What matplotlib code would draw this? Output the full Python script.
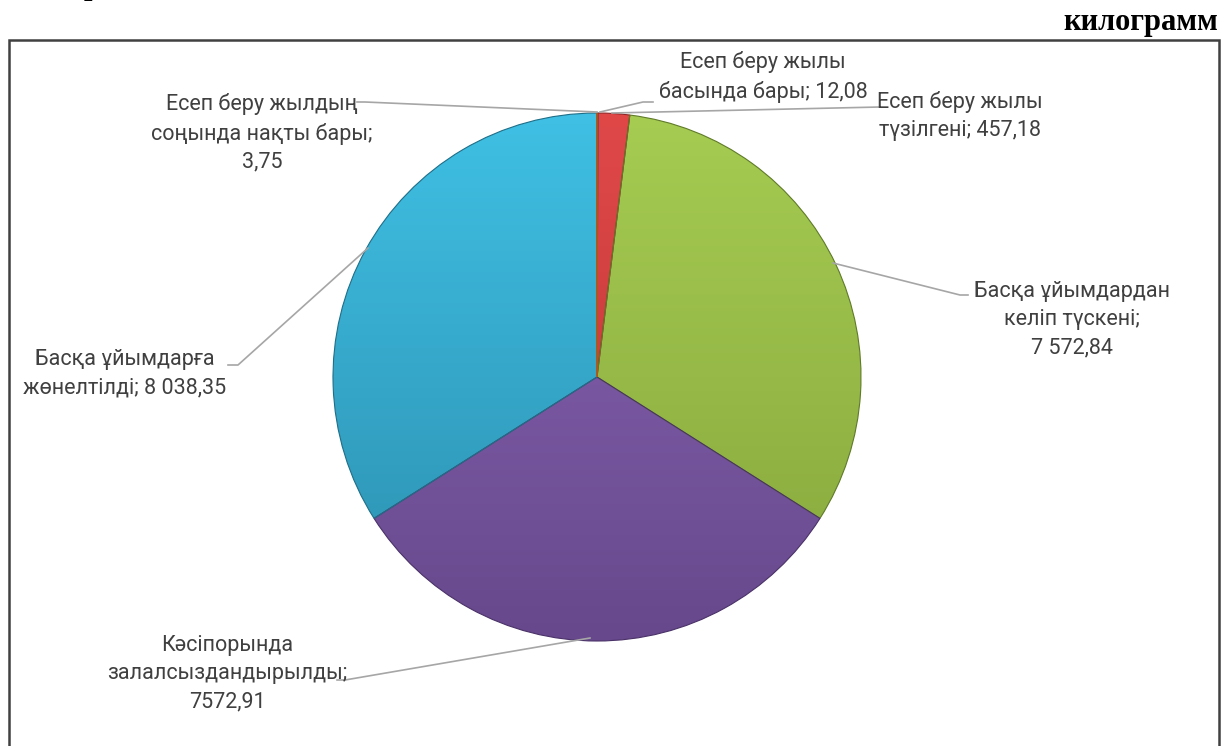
import matplotlib
matplotlib.use("Agg")
import matplotlib.pyplot as plt
import numpy as np
from matplotlib.colors import LinearSegmentedColormap

# ---- data ----
labels = [
    "Есеп беру жылы\nбасында бары; 12,08",
    "Есеп беру жылы\nтүзілгені; 457,18",
    "Басқа ұйымдардан\nкеліп түскені;\n7 572,84",
    "Кәсіпорында\nзалалсыздандырылды;\n7572,91",
    "Басқа ұйымдарға\nжөнелтілді; 8 038,35",
    "Есеп беру жылдың\nсоңында нақты бары;\n3,75",
]
values = [12.08, 457.18, 7572.84, 7572.91, 8038.35, 3.75]
unit_text = "килограмм"

# ---- style ----
top_colors = ["#5A8CC8", "#E04848", "#A6CC52", "#8A67B6", "#3FC0E4", "#F9A05A"]
bot_colors = ["#3F6EA6", "#B83434", "#86A63C", "#67488C", "#2C8EAE", "#D67A30"]
edge_colors = ["#2F5585", "#8E2525", "#5F7A28", "#4A3268", "#1F6E88", "#A85A20"]
text_color = "#404040"
line_color = "#A6A6A6"
FONT = ["Roboto", "DejaVu Sans"]

W, H = 1224, 746
fig = plt.figure(figsize=(W / 100, H / 100), dpi=100)
ax = fig.add_axes([0, 0, 1, 1])

def Y(py):
    return H - py

cx, cy, r = 597, Y(377), 264
wedges, _ = ax.pie(values, startangle=90, counterclock=False,
                   center=(cx, cy), radius=r, colors=top_colors,
                   wedgeprops=dict(linewidth=0.8))

grad = np.linspace(0, 1, 256).reshape(-1, 1)
for w, tc, bc, ec in zip(wedges, top_colors, bot_colors, edge_colors):
    cmap = LinearSegmentedColormap.from_list("g", [tc, bc])
    im = ax.imshow(grad, extent=(cx - r, cx + r, cy - r, cy + r), origin="upper",
                   cmap=cmap, aspect="auto", zorder=w.get_zorder(), interpolation="bilinear")
    im.set_clip_path(w)
    w.set_facecolor("none")
    w.set_edgecolor(ec)
    w.set_zorder(3)

ax.set_xlim(0, W)
ax.set_ylim(0, H)
ax.set_aspect("auto")
ax.axis("off")

# frame (chart border)
ax.plot([9, 9, 1219, 1219], [Y(746), Y(40), Y(40), Y(746)], color="#404040",
        lw=1.8, solid_joinstyle="miter", clip_on=False, zorder=5)

# leader lines (pixel coordinates of label anchors)
leaders = [
    [(600, 112), (643, 102), (653, 102)],
    [(612, 113), (880, 107)],
    [(833, 263), (960, 295), (968, 295)],
    [(590, 638), (345, 680), (337, 680)],
    [(368, 248), (238, 365), (228, 365)],
    [(597, 112), (365, 102), (357, 102)],
]
for pts in leaders:
    xs = [p[0] for p in pts]
    ys = [Y(p[1]) for p in pts]
    ax.plot(xs, ys, color=line_color, lw=1.2, zorder=4)

label_pos = [
    (763, 77, "center"),
    (960, 116, "center"),
    (1072, 320, "center"),
    (227, 674, "center"),
    (125, 374, "center"),
    (262, 133, "center"),
]
for lab, (x, y, ha) in zip(labels, label_pos):
    ax.text(x, Y(y), lab, ha=ha, va="center", multialignment="center",
            fontsize=15.5, color=text_color, family=FONT, linespacing=1.45, zorder=6)

ax.text(1218, Y(30), unit_text, ha="right", va="baseline", fontsize=22,
        fontweight="bold", family=["Liberation Serif", "DejaVu Serif"], color="black")
ax.text(84, Y(-6), "р", ha="left", va="baseline", fontsize=22,
        fontweight="bold", family=["Liberation Serif", "DejaVu Serif"], color="black")

fig.savefig("out.png", dpi=100)
